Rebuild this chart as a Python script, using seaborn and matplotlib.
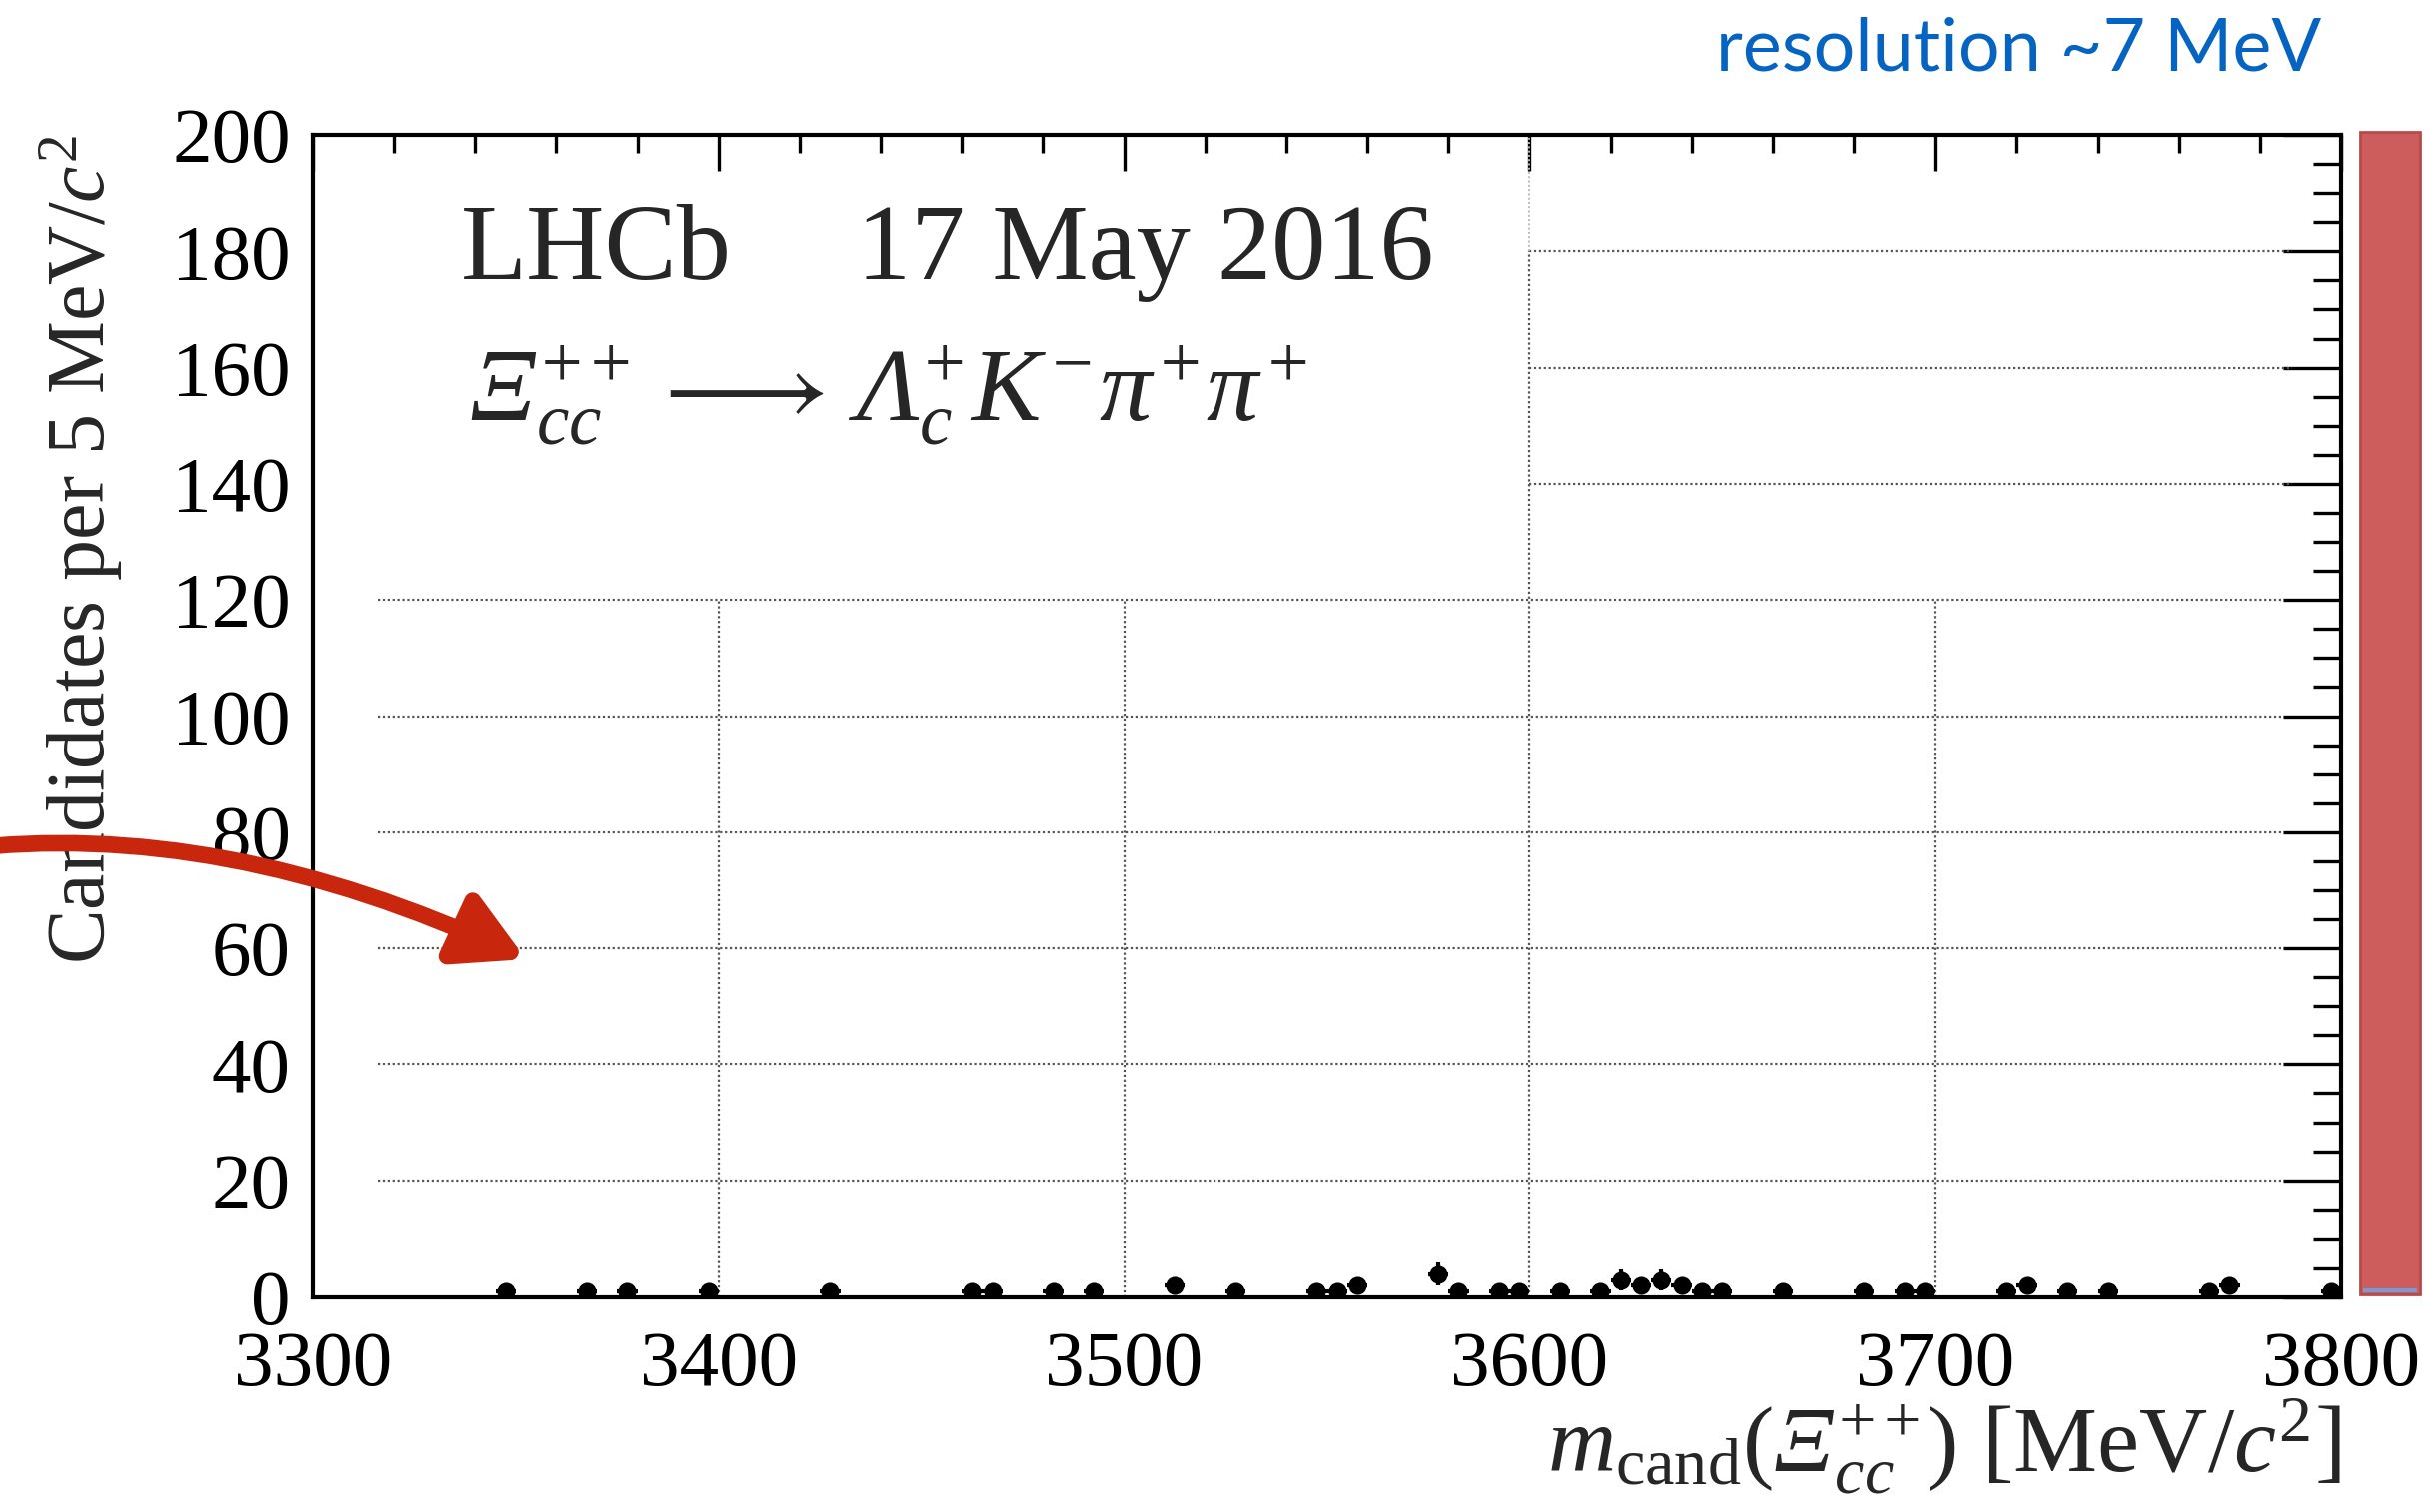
import numpy as np
import pandas as pd
import matplotlib
matplotlib.use("Agg")
import matplotlib.pyplot as plt
import seaborn as sns
from matplotlib.patches import Rectangle, FancyArrowPatch, ArrowStyle
from matplotlib.path import Path
from matplotlib.ticker import MultipleLocator

# ---- data (bin centres of 5 MeV bins with candidates, and counts) ----
mass = [3347.5, 3367.5, 3377.5, 3397.5, 3427.5, 3462.5, 3467.5, 3482.5, 3492.5,
        3512.5, 3527.5, 3547.5, 3552.5, 3557.5, 3577.5, 3582.5, 3592.5, 3597.5,
        3607.5, 3617.5, 3622.5, 3627.5, 3632.5, 3637.5, 3642.5, 3647.5, 3662.5,
        3682.5, 3692.5, 3697.5, 3717.5, 3722.5, 3732.5, 3742.5, 3767.5, 3772.5,
        3797.5]
counts = [1, 1, 1, 1, 1, 1, 1, 1, 1,
          2, 1, 1, 1, 2, 4, 1, 1, 1,
          1, 1, 3, 2, 3, 2, 1, 1, 1,
          1, 1, 1, 1, 2, 1, 1, 1, 2,
          1]
bin_half_width = 2.5
x_ticks = [3300, 3400, 3500, 3600, 3700, 3800]
y_ticks = [0, 20, 40, 60, 80, 100, 120, 140, 160, 180, 200]

df = pd.DataFrame({"mass": mass, "counts": counts})
df["err"] = np.sqrt(df["counts"])

sns.set_theme(style="white")
plt.rcParams["font.family"] = ["Liberation Serif", "DejaVu Serif"]
plt.rcParams["mathtext.fontset"] = "custom"
plt.rcParams["mathtext.rm"] = "Liberation Serif:italic"
plt.rcParams["mathtext.it"] = "Liberation Serif:italic"
plt.rcParams["mathtext.sf"] = "Liberation Serif"
plt.rcParams["mathtext.bf"] = "Liberation Serif:bold"

W, H = 2429, 1513
fig = plt.figure(figsize=(W / 100, H / 100), dpi=100)
fig.patch.set_facecolor("white")
ax = fig.add_axes([313 / W, 1 - 1298 / H, (2342 - 313) / W, (1298 - 135) / H])
ax.set_facecolor("white")

# partial dotted grid (as in the reference)
gkw = dict(color="#555555", linestyle=(0, (1, 1.2)), linewidth=1.6, zorder=1)
ax.hlines([20, 40, 60, 80, 100, 120], 3316, 3786, **gkw)
ax.hlines([140, 160, 180], 3600, 3788, **gkw)
ax.vlines([3400, 3500, 3700], 0, 120, **gkw)
ax.vlines([3600], 0, 180, **gkw)
ax.vlines([3600], 180, 200, color="#bbbbbb", linestyle=(0, (1, 1.2)), linewidth=1.4, zorder=1)

# data points
ax.errorbar(df["mass"], df["counts"], xerr=bin_half_width, yerr=df["err"],
            fmt="none", ecolor="black", elinewidth=3.0, capsize=0, zorder=3)
sns.scatterplot(data=df, x="mass", y="counts", ax=ax, color="black", s=170,
                marker="o", edgecolor="black", linewidth=0, zorder=4, legend=False)

ax.set_xlim(3300, 3800)
ax.set_ylim(0, 200)
ax.set_xticks(x_ticks)
ax.set_yticks(y_ticks)
ax.xaxis.set_minor_locator(MultipleLocator(20))
ax.yaxis.set_minor_locator(MultipleLocator(5))
ax.tick_params(axis="both", which="both", direction="in", top=True, right=True,
               colors="black", width=2.4)
ax.tick_params(axis="x", which="major", length=26, labelsize=57, pad=24)
ax.tick_params(axis="x", which="minor", length=13)
ax.tick_params(axis="y", which="major", length=42, labelsize=57, pad=16)
ax.tick_params(axis="y", which="minor", length=20)
for s in ax.spines.values():
    s.set_linewidth(3)
    s.set_color("black")
    s.set_visible(True)

ax.set_xlabel(r"$m_{\mathsf{cand}}\mathsf{(}\Xi_{cc}^{{+}{+}}\mathsf{)}$ [MeV/$c^{\mathsf{2}}$]",
              fontsize=68, loc="right", labelpad=-4)
ax.set_ylabel(r"Candidates per 5 MeV/$c^{\mathsf{2}}$", fontsize=59, loc="top", labelpad=34)

ax.text(0.073, 0.876, "LHCb", transform=ax.transAxes, fontsize=78, va="baseline", ha="left")
ax.text(0.268, 0.876, "17 May 2016", transform=ax.transAxes, fontsize=78, va="baseline", ha="left")
ax.text(0.077, 0.754,
        r"$\Xi_{cc}^{{+}{+}}\,\longrightarrow\,\Lambda_c^{+}K^{-}\pi^{+}\pi^{+}$",
        transform=ax.transAxes, fontsize=75, va="baseline", ha="left")

# blue annotation
fig.text(2020 / W, 1 - 50 / H, "resolution ~7 MeV", color="#0563C1", fontsize=53,
         family=["Lato", "DejaVu Sans"], ha="center", va="center")

# red bar on the right
fig.patches.append(Rectangle((2361 / W, 1 - 1295 / H), 60 / W, (1295 - 132) / H,
                             transform=fig.transFigure, facecolor="#cd5c5c",
                             edgecolor="#b94a4a", linewidth=2, zorder=0))
fig.patches.append(Rectangle((2364 / W, 1 - 1293 / H), 54 / W, 4 / H,
                             transform=fig.transFigure, facecolor="#7a9ad6",
                             edgecolor="none", zorder=1))

# red curved arrow
pts = [(-40, 850), (220, 818), (526, 960)]
verts = [(x / W, 1 - y / H) for x, y in pts]
path = Path(verts, [Path.MOVETO, Path.CURVE3, Path.CURVE3])
arrow = FancyArrowPatch(path=path, transform=fig.transFigure,
                        arrowstyle=ArrowStyle("-|>", head_length=40, head_width=22),
                        mutation_scale=1, color="#c8260d", linewidth=12, zorder=10)
fig.patches.append(arrow)

fig.savefig("out.png", dpi=100, facecolor="white")
